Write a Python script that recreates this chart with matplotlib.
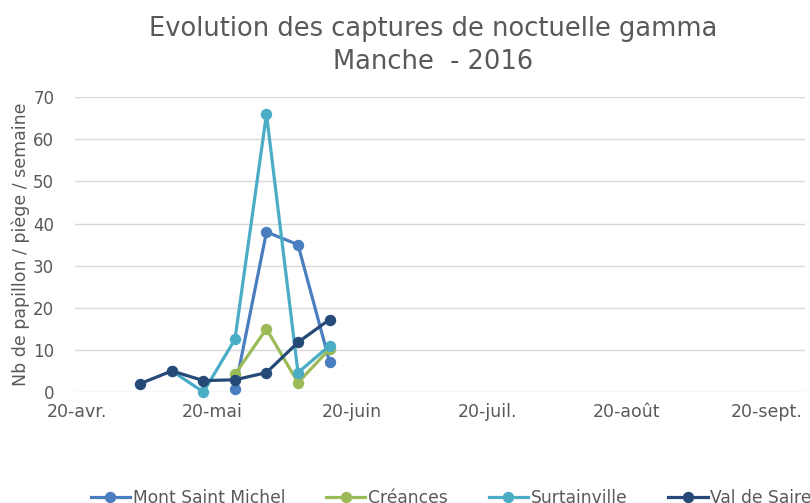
import matplotlib
matplotlib.use('Agg')
import datetime as dt
import numpy as np
import matplotlib.pyplot as plt

# weekly trap counts, Manche 2016
dates = [dt.date(2016, 5, 4), dt.date(2016, 5, 11), dt.date(2016, 5, 18),
         dt.date(2016, 5, 25), dt.date(2016, 6, 1), dt.date(2016, 6, 8),
         dt.date(2016, 6, 15)]
nan = np.nan
mont_saint_michel = [nan, nan, nan, 0.6, 38, 35, 7.2]
creances = [nan, nan, nan, 4.2, 15, 2.2, 10.2]
surtainville = [nan, 5, 0, 12.5, 66, 4.6, 11]
val_de_saire = [2, 5, 2.7, 2.9, 4.6, 11.8, 17.2]

series = [("Mont Saint Michel", mont_saint_michel, '#4a7ebf'),
          ("Créances", creances, '#9bbb59'),
          ("Surtainville", surtainville, '#4bacc6'),
          ("Val de Saire", val_de_saire, '#264a78')]

tick_dates = [dt.date(2016, m, 20) for m in range(4, 10)]
tick_labels = ["20-avr.", "20-mai", "20-juin", "20-juil.", "20-août", "20-sept."]

grey = '#595959'

fig = plt.figure(figsize=(8.1, 5.03), dpi=100)
ax = fig.add_axes([0.0926, 0.2207, 0.901, 0.5859])

for name, vals, col in series:
    ax.plot(dates, vals, color=col, lw=2.3, marker='o', markersize=7.2,
            label=name, clip_on=False, zorder=3)

ax.set_ylim(0, 70)
ax.set_yticks(range(0, 71, 10))
ax.set_xlim(dt.datetime(2016, 4, 19, 12), dt.datetime(2016, 9, 28, 12))
ax.set_xticks(tick_dates)
ax.set_xticklabels(tick_labels)

ax.grid(axis='y', color='#d9d9d9', lw=1)
ax.set_axisbelow(True)
for s in ax.spines.values():
    s.set_visible(False)
ax.tick_params(axis='both', length=0, labelcolor=grey)
ax.tick_params(axis='y', pad=15, labelsize=12)
ax.tick_params(axis='x', pad=8, labelsize=12.5)

ax.set_ylabel("Nb de papillon / piège / semaine", fontsize=12.5, color=grey)
ax.yaxis.set_label_coords(-0.062, 0.5)

fig.text(0.535, 0.91, "Evolution des captures de noctuelle gamma\nManche  - 2016",
         ha='center', va='center', fontsize=18.5, color=grey, linespacing=1.35)

# legend sits partly below the bottom edge, as in the original export
fig.legend(loc='center', bbox_to_anchor=(0.557, 0.01), ncol=4, frameon=False,
           fontsize=12.3, labelcolor=grey, handlelength=2.3, columnspacing=2.4,
           handletextpad=0.15)

plt.savefig('out.png', dpi=100)
